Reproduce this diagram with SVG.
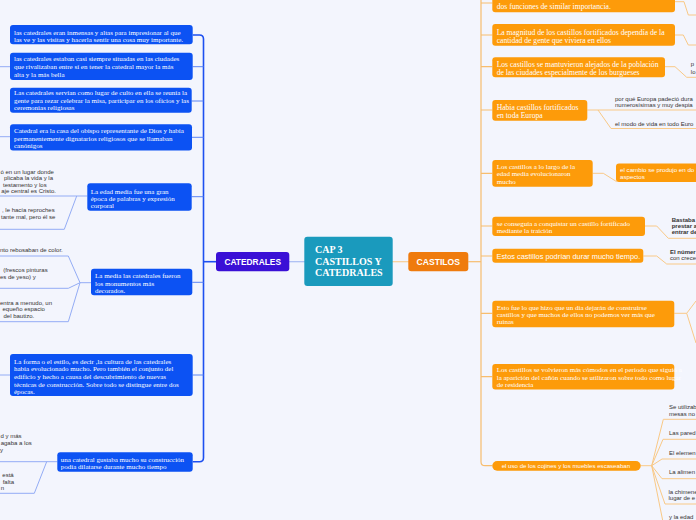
<svg xmlns="http://www.w3.org/2000/svg" width="696" height="520" viewBox="0 0 696 520">
<style>
.bg{fill:#f3f5fd}
.bn{fill:#0c52f3}
.on{fill:#fd9b0a}
.ts{font-family:"Liberation Serif","Times New Roman",serif;font-size:7px;fill:#ffffff}
.tsl{font-family:"Liberation Serif","Times New Roman",serif;font-size:7.6px;fill:#ffffff}
.tw{font-family:"Liberation Sans",Arial,sans-serif;fill:#ffffff}
.tg{font-family:"Liberation Sans",Arial,sans-serif;font-size:6px;fill:#333333}
.lt{fill:none;stroke:#1d4ff0;stroke-width:1.6}
.lb{fill:none;stroke:#5a84f4;stroke-width:1}
.ll{fill:none;stroke:#93acf5;stroke-width:1}
.ot{fill:none;stroke:#f7bd6e;stroke-width:1.2}
.ol{fill:none;stroke:#f9c987;stroke-width:1}
</style>
<rect class="bg" x="0" y="0" width="696" height="520"/>

<g id="connectors">
  <line x1="289" y1="261.7" x2="305" y2="261.7" stroke="#a9bbf3" stroke-width="1.2"/>
  <line x1="392" y1="261.7" x2="409" y2="261.7" stroke="#f8cf96" stroke-width="1.2"/>
  <path class="lt" d="M216,261.7 H203.5"/>
  <path class="lt" d="M192.7,35 H199.5 Q203.5,35 203.5,39 V457.7 Q203.5,461.7 199.5,461.7 H192.7"/>
  <path class="lb" d="M192.7,66.7 H203.5 M191.7,101 H203.5 M192,137.3 H203.5 M191.7,196.7 H203.5 M192.3,282.3 H203.5 M192.7,375 H203.5"/>
  <path class="ll" d="M0,66.7 H10 M0,136.7 H10 M0,375 H10"/>
  <path class="ll" d="M0,196 H87.3 M0,229.3 H64.3 L76.7,196"/>
  <path class="ll" d="M0,256 H68.3 L80,282.7 H91 M0,288.3 H68.3 L80,282.7 M0,321.7 H68.3 L80,282.7"/>
  <path class="ll" d="M0,461.7 H57.3 M0,493.3 H34.3 L46.7,461.7"/>
  <path class="ot" d="M468.3,261.7 H481"/>
  <path class="ot" d="M481,0 V461.7 Q481,465.7 485,465.7 H492.3"/>
  <path class="ot" d="M481,3 H492.3 M481,35 H492.3 M481,66.7 H492.3 M481,110 H492.3 M481,173.3 H492.3 M481,226 H492.3 M481,256 H492.3 M481,313.3 H492.3 M481,376.7 H492.3"/>
  <path class="ol" d="M675,1.7 H684 L688.3,15 H696"/>
  <path class="ol" d="M675,35 H683.3 L688.3,45 H696"/>
  <path class="ol" d="M665,66.7 H675 L686.7,77.3 H696"/>
  <path class="ol" d="M587.3,110 H696 M598,110 L611,128.5 H696"/>
  <path class="ol" d="M592.7,173.3 H603.3 L616.7,181.7"/>
  <path class="ol" d="M645,226 H656.7 L668.3,238.3 H696"/>
  <path class="ol" d="M643.3,256 H656.7 L666.7,264 H696"/>
  <path class="ol" d="M674.3,313.3 H686.7 L696,301 M686.7,313.3 L696,343"/>
  <path class="ol" d="M640.7,465.7 H651.7 L663.3,419.3 H696 M651.7,465.7 L663,439.3 H696 M651.7,465.7 L662,459 H696 M651.7,465.7 L662,478.7 H696 M651.7,465.7 L665,504 H696 M651.7,465.7 L663,522"/>
</g>

<g id="center">
  <rect x="304.3" y="236.7" width="88.4" height="49.3" rx="3" fill="#1a9abd"/>
  <text x="315" y="252.5" font-family="Liberation Serif,Times New Roman,serif" font-size="10" font-weight="bold" fill="#ffffff">CAP 3</text>
  <text x="315" y="264.5" font-family="Liberation Serif,Times New Roman,serif" font-size="10" font-weight="bold" fill="#ffffff">CASTILLOS Y</text>
  <text x="315" y="276.3" font-family="Liberation Serif,Times New Roman,serif" font-size="10" font-weight="bold" fill="#ffffff">CATEDRALES</text>
</g>

<g id="catedrales">
  <rect x="216" y="252" width="73.3" height="19.3" rx="3" fill="#3a10d6"/>
  <text class="tw" x="252.7" y="264.6" font-size="8.4" font-weight="bold" text-anchor="middle">CATEDRALES</text>
</g>

<g id="castilos">
  <rect x="408.3" y="252" width="60" height="19.3" rx="3" fill="#ef7b0d"/>
  <text class="tw" x="438.3" y="264.6" font-size="8.6" font-weight="bold" text-anchor="middle">CASTILOS</text>
</g>

<g id="cat1">
  <rect class="bn" x="10" y="25" width="182.7" height="19.3" rx="3"/>
  <text class="ts" x="14" y="35.1">las catedrales eran inmensas y altas para impresionar al que</text>
  <text class="ts" x="14" y="41.8">las ve y las visitas y hacerla sentir una cosa muy importante.</text>
</g>
<g id="cat2">
  <rect class="bn" x="10" y="52.7" width="182.7" height="27.3" rx="3"/>
  <text class="ts" x="14" y="61.1">las catedrales estaban casi siempre situadas en las ciudades</text>
  <text class="ts" x="14" y="69.1">que rivalizaban entre sí en tener la catedral mayor la más</text>
  <text class="ts" x="14" y="76.8">alta y la más bella</text>
</g>
<g id="cat3">
  <rect class="bn" x="10" y="87.7" width="181.7" height="25" rx="3"/>
  <text class="ts" x="14" y="95.1">Las catedrales servían como lugar de culto en ella se reunía la</text>
  <text class="ts" x="14" y="102.8">gente para rezar celebrar la misa, participar en los oficios y las</text>
  <text class="ts" x="14" y="110.3">ceremonias religiosas</text>
</g>
<g id="cat4">
  <rect class="bn" x="10" y="124.3" width="182" height="26.2" rx="3"/>
  <text class="ts" x="14" y="132.8">Catedral era la casa del obispo representante de Dios y había</text>
  <text class="ts" x="14" y="140.6">permanentemente dignatarios religiosos que se llamaban</text>
  <text class="ts" x="14" y="148.2">canónigos</text>
</g>
<g id="cat5">
  <rect class="bn" x="87.3" y="183.3" width="104.4" height="27.4" rx="3"/>
  <text class="ts" x="90.7" y="193.5">La edad media fue una gran</text>
  <text class="ts" x="90.7" y="200.8">época de palabras y expresión</text>
  <text class="ts" x="90.7" y="207.8">corporal</text>
</g>
<g id="cat5a">
  <text class="tg" x="0.5" y="173.8">ó en un lugar donde</text>
  <text class="tg" x="4" y="180.4">plicaba la vida y la</text>
  <text class="tg" x="3" y="186.8">testamento y los</text>
  <text class="tg" x="1.3" y="193.4">aje central es Cristo.</text>
</g>
<g id="cat5b">
  <text class="tg" x="2" y="212.2">, le hacía reproches</text>
  <text class="tg" x="1" y="219.4">tante mal, pero él se</text>
</g>
<g id="cat6">
  <rect class="bn" x="91" y="268.7" width="101.3" height="26.6" rx="3"/>
  <text class="ts" x="95" y="277.8">La media las catedrales fueron</text>
  <text class="ts" x="95" y="285.5">los monumentos más</text>
  <text class="ts" x="95" y="292.8">decorados.</text>
</g>
<g id="cat6a">
  <text class="tg" x="0" y="252.2">nto rebosaban de color.</text>
</g>
<g id="cat6b">
  <text class="tg" x="3.3" y="271.6">(frescos pinturas</text>
  <text class="tg" x="0" y="279.4">es de yeso) y</text>
</g>
<g id="cat6c">
  <text class="tg" x="0" y="304.8">entra a menudo, un</text>
  <text class="tg" x="2.5" y="311.4">equeño espacio</text>
  <text class="tg" x="3.5" y="317.8">del bautizo.</text>
</g>
<g id="cat7">
  <rect class="bn" x="10" y="354" width="182.7" height="42" rx="3"/>
  <text class="ts" x="14" y="363.5">La forma o el estilo, es decir ,la cultura de las catedrales</text>
  <text class="ts" x="14" y="371.1">había evolucionado mucho. Pero también el conjunto del</text>
  <text class="ts" x="14" y="378.8">edificio y hecho a causa del descubrimiento de nuevas</text>
  <text class="ts" x="14" y="386.5">técnicas de construcción. Sobre todo se distingue entre dos</text>
  <text class="ts" x="14" y="394.1">épocas.</text>
</g>
<g id="cat8">
  <rect class="bn" x="57.3" y="452.3" width="135.4" height="19.4" rx="3"/>
  <text class="ts" x="60.7" y="461.8">una catedral gustaba mucho su construcción</text>
  <text class="ts" x="60.7" y="469.1">podía dilatarse  durante mucho tiempo</text>
</g>
<g id="cat8a">
  <text class="tg" x="0.5" y="438">d y más</text>
  <text class="tg" x="0.7" y="445.4">agaba a los</text>
  <text class="tg" x="0" y="452">y</text>
</g>
<g id="cat8b">
  <text class="tg" x="2.3" y="477">está</text>
  <text class="tg" x="2.7" y="484.4">falta</text>
  <text class="tg" x="0.7" y="490.4">n</text>
</g>

<g id="cas0">
  <rect class="on" x="492.3" y="-6" width="182.7" height="18.3" rx="3"/>
  <text class="tsl" x="496.7" y="8.6">dos funciones de similar importancia.</text>
</g>
<g id="cas1">
  <rect class="on" x="492.3" y="24" width="182.7" height="21.7" rx="3"/>
  <text class="tsl" x="496.7" y="34.5">La magnitud de los castillos fortificados dependía de la</text>
  <text class="tsl" x="496.7" y="43">cantidad de gente que viviera en ellos</text>
</g>
<g id="cas2">
  <rect class="on" x="492.3" y="57.3" width="172.7" height="20" rx="3"/>
  <text class="tsl" x="496.7" y="67.2">Los castillos se mantuvieron alejados de la población</text>
  <text class="tsl" x="496.7" y="75.4">de las ciudades especialmente de los burgueses</text>
</g>
<g id="cas2a">
  <text class="tg" x="690.8" y="66.2">p</text>
  <text class="tg" x="690.8" y="73.9">lo</text>
</g>
<g id="cas3">
  <rect class="on" x="492.3" y="100" width="95" height="20.7" rx="3"/>
  <text class="tsl" x="496.7" y="109.9">Habia castillos fortificados</text>
  <text class="tsl" x="496.7" y="118.2">en toda Europa</text>
</g>
<g id="cas3a">
  <text class="tg" x="615" y="101">por qué Europa padeció dura</text>
  <text class="tg" x="615" y="106.5">numerosísimas y muy despia</text>
</g>
<g id="cas3b">
  <text class="tg" x="615" y="126.3">el modo de vida en todo Euro</text>
</g>
<g id="cas4">
  <rect class="on" x="492.3" y="160" width="100.4" height="26.7" rx="3"/>
  <text class="ts" x="496.7" y="168.5">Los castillos a lo largo de la</text>
  <text class="ts" x="496.7" y="176.1">edad media evolucionaron</text>
  <text class="ts" x="496.7" y="183.5">mucho</text>
</g>
<g id="cas4a">
  <rect class="on" x="616" y="163.5" width="90" height="18.5" rx="3"/>
  <text class="tw" x="620" y="172.4" font-size="6.2">el cambio se produjo en do</text>
  <text class="tw" x="620" y="178.8" font-size="6.2">aspectos</text>
</g>
<g id="cas5">
  <rect class="on" x="492.3" y="216.7" width="152.7" height="19.3" rx="3"/>
  <text class="ts" x="496.7" y="225.8">se conseguía a conquistar un castillo fortificado</text>
  <text class="ts" x="496.7" y="232.8">mediante la traición</text>
</g>
<g id="cas5a">
  <text class="tg" x="671.7" y="222" font-weight="bold">Bastaba</text>
  <text class="tg" x="671.7" y="228" font-weight="bold">prestar a</text>
  <text class="tg" x="671.7" y="234" font-weight="bold">entrar de</text>
</g>
<g id="cas6">
  <rect class="on" x="492.3" y="248.7" width="151" height="14" rx="3"/>
  <text class="tw" x="496.5" y="258.6" font-size="7.4">Estos castillos podrían durar mucho tiempo.</text>
</g>
<g id="cas6a">
  <text class="tg" x="670" y="253.8" font-size="5.8" font-weight="bold">El númer</text>
  <text class="tg" x="670" y="260.4" font-size="5.6">con crece</text>
</g>
<g id="cas7">
  <rect class="on" x="492.3" y="300.7" width="182" height="26.6" rx="3"/>
  <text class="ts" x="496.7" y="309.5">Esto fue lo que hizo que un dia dejarán de construirse</text>
  <text class="ts" x="496.7" y="316.8">castillos y que muchos de ellos no podemos ver más que</text>
  <text class="ts" x="496.7" y="323.8">ruinas</text>
</g>
<g id="cas8">
  <rect class="on" x="492.3" y="364" width="182" height="25.5" rx="3"/>
  <text class="ts" x="496.7" y="372.3" font-size="6.4">Los castillos se volvieron más cómodos en el periodo que siguió a</text>
  <text class="ts" x="496.7" y="379.6" font-size="6.4">la aparición del cañón cuando se utilizaron sobre todo como lugar</text>
  <text class="ts" x="496.7" y="386.9" font-size="6.4">de residencia</text>
</g>
<g id="cas9">
  <rect class="on" x="492.3" y="461" width="148.4" height="9.7" rx="4.8"/>
  <text class="tw" x="501.7" y="467.9" font-size="6.1">el uso de los cojines y los muebles escaseaban</text>
</g>
<g id="cas9a">
  <text class="tg" x="669" y="408.8">Se utilizab</text>
  <text class="tg" x="669" y="416">mesas no</text>
</g>
<g id="cas9b"><text class="tg" x="669" y="435.4">Las pared</text></g>
<g id="cas9c"><text class="tg" x="669" y="454.8">El elemen</text></g>
<g id="cas9d"><text class="tg" x="669" y="473.8">La alimen</text></g>
<g id="cas9e">
  <text class="tg" x="668.5" y="493.8" font-size="5.8">la chimene</text>
  <text class="tg" x="668.5" y="500.1">lugar de e</text>
</g>
<g id="cas9f"><text class="tg" x="669" y="519.4">y la edad</text></g>
</svg>
